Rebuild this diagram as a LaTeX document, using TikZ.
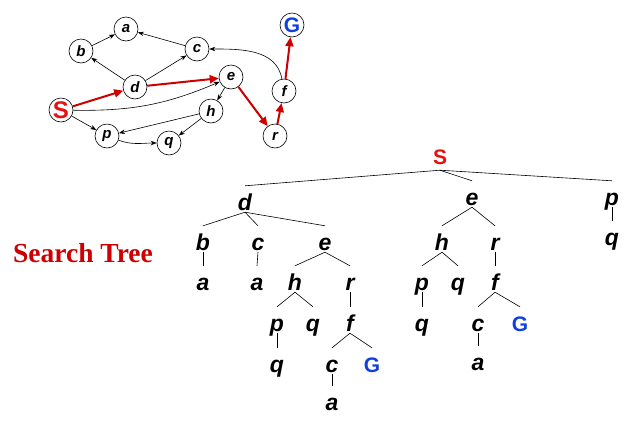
\documentclass[tikz,border=0pt]{standalone}
\usepackage{fontspec}
\setmainfont{Liberation Sans}
\newfontfamily\titlefont{Liberation Serif}
\usepackage{xcolor}
\usetikzlibrary{arrows.meta}

\definecolor{pathred}{RGB}{204,0,0}
\definecolor{startred}{RGB}{232,16,16}
\definecolor{goalblue}{RGB}{16,64,220}

\begin{document}
\begin{tikzpicture}[
  x=1pt, y=1pt,
  state/.style={circle, draw, line width=0.6pt, minimum size=24pt, inner sep=0pt, fill=white, font=\fontsize{15}{17}\selectfont\bfseries\itshape},
  arr/.style={-{Stealth[length=6pt,width=4.5pt]}, line width=0.6pt},
  redarr/.style={-{Triangle[length=9pt,width=8pt]}, line width=2pt, draw=pathred},
  tnode/.style={anchor=base, inner sep=0pt, inner ysep=2pt, text height=22pt, text depth=0pt, font=\fontsize{23}{27}\selectfont\bfseries\itshape},
  tgoal/.style={tnode, text=goalblue, font=\fontsize{21}{24}\selectfont\bfseries},
  tedge/.style={line width=0.6pt}
]
  \useasboundingbox[fill=white] (0,0) rectangle (628,-424);

  \node[state] (a) at (126,-29) {a};
  \node[state] (b) at (81,-51) {b};
  \node[state] (c) at (197,-49) {c};
  \node[state] (d) at (135,-87) {d};
  \node[state] (e) at (231,-77) {e};
  \node[state, text=startred, font=\fontsize{24}{26}\selectfont\bfseries] (S) at (61,-110) {S};
  \node[state] (h) at (211,-111) {h};
  \node[state] (p) at (107,-136) {p};
  \node[state] (q) at (169,-143) {q};
  \node[state] (r) at (275,-136) {r};
  \node[state] (f) at (284,-91) {f};
  \node[state, text=goalblue, font=\fontsize{21}{23}\selectfont\bfseries] (G) at (292,-25) {G};

  \draw[arr] (b) -- (a);
  \draw[arr] (c) -- (a);
  \draw[arr] (d) -- (b);
  \draw[arr] (d) -- (c);
  \draw[arr] (S) to[bend right=12] (e);
  \draw[arr] (S) -- (p);
  \draw[arr] (e) -- (h);
  \draw[arr] (h) -- (p);
  \draw[arr] (h) -- (q);
  \draw[arr] (p) to[out=-20, in=180] (q);
  \draw[arr] (f) to[out=100, in=0] (c);
  \draw[redarr] (S) -- (d);
  \draw[redarr] (d) -- (e);
  \draw[redarr] (e) -- (r);
  \draw[redarr] (r) -- (f);
  \draw[redarr] (f) -- (G);

  \node[anchor=base, text=pathred, font=\titlefont\fontsize{27.5}{30}\selectfont\bfseries] (title) at (83,-262) {Search Tree};

  \node[tnode, text=startred, text depth=4pt, font=\fontsize{21}{24}\selectfont\bfseries] (tS) at (440,-164) {S};
  \node[tnode] (td) at (245,-210) {d};
  \node[tnode] (te) at (472,-205) {e};
  \node[tnode] (tp) at (612,-205) {p};
  \node[tnode] (tdb) at (203,-250) {b};
  \node[tnode] (tdc) at (258,-250) {c};
  \node[tnode] (tde) at (325,-250) {e};
  \node[tnode] (tdba) at (203,-290) {a};
  \node[tnode] (tdca) at (257,-290) {a};
  \node[tnode] (tdeh) at (295,-290) {h};
  \node[tnode] (tder) at (350,-290) {r};
  \node[tnode] (tdehp) at (277,-331) {p};
  \node[tnode] (tdehq) at (313,-331) {q};
  \node[tnode] (tderf) at (350,-331) {f};
  \node[tnode] (tdehpq) at (277,-372) {q};
  \node[tnode] (tderfc) at (332,-372) {c};
  \node[tgoal] (tderfG) at (372,-372) {G};
  \node[tnode] (tderfca) at (332,-410) {a};
  \node[tnode] (teh) at (442,-250) {h};
  \node[tnode] (ter) at (495,-250) {r};
  \node[tnode] (tehp) at (422,-290) {p};
  \node[tnode] (tehq) at (458,-290) {q};
  \node[tnode] (terf) at (495,-290) {f};
  \node[tnode] (tehpq) at (422,-331) {q};
  \node[tnode] (terfc) at (478,-331) {c};
  \node[tgoal] (terfG) at (520,-331) {G};
  \node[tnode] (terfca) at (478,-370) {a};
  \node[tnode] (tpq) at (612,-245) {q};

  \draw[tedge] (tS.south) -- (td.north);
  \draw[tedge] (tS.south) -- (te.north);
  \draw[tedge] (tS.south) -- (tp.north);
  \draw[tedge] (td.south) -- (tdb.north);
  \draw[tedge] (td.south) -- (tdc.north);
  \draw[tedge] (td.south) -- (tde.north);
  \draw[tedge] (tdb.south) -- (tdba.north);
  \draw[tedge] (tdc.south) -- (tdca.north);
  \draw[tedge] (tde.south) -- (tdeh.north);
  \draw[tedge] (tde.south) -- (tder.north);
  \draw[tedge] (tdeh.south) -- (tdehp.north);
  \draw[tedge] (tdeh.south) -- (tdehq.north);
  \draw[tedge] (tder.south) -- (tderf.north);
  \draw[tedge] (tdehp.south) -- (tdehpq.north);
  \draw[tedge] (tderf.south) -- (tderfc.north);
  \draw[tedge] (tderf.south) -- (tderfG.north);
  \draw[tedge] (tderfc.south) -- (tderfca.north);
  \draw[tedge] (te.south) -- (teh.north);
  \draw[tedge] (te.south) -- (ter.north);
  \draw[tedge] (teh.south) -- (tehp.north);
  \draw[tedge] (teh.south) -- (tehq.north);
  \draw[tedge] (ter.south) -- (terf.north);
  \draw[tedge] (tehp.south) -- (tehpq.north);
  \draw[tedge] (terf.south) -- (terfc.north);
  \draw[tedge] (terf.south) -- (terfG.north);
  \draw[tedge] (terfc.south) -- (terfca.north);
  \draw[tedge] (tp.south) -- (tpq.north);
\end{tikzpicture}
\end{document}
